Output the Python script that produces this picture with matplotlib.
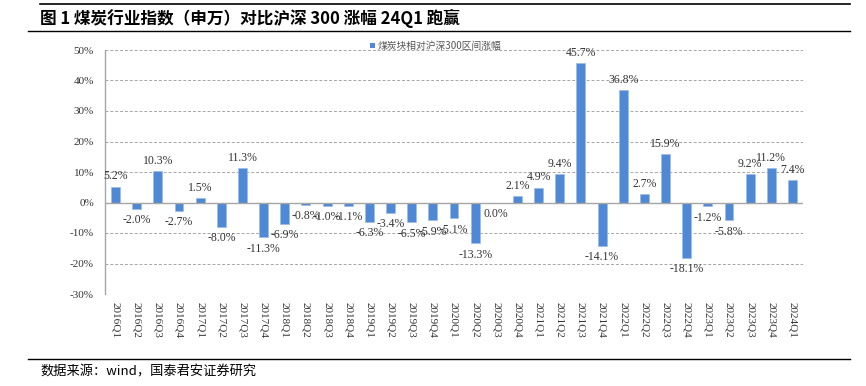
import matplotlib
matplotlib.use("Agg")
import matplotlib.pyplot as plt
from matplotlib.lines import Line2D
from matplotlib.patches import Rectangle

categories = ["2016Q1", "2016Q2", "2016Q3", "2016Q4", "2017Q1", "2017Q2", "2017Q3", "2017Q4",
              "2018Q1", "2018Q2", "2018Q3", "2018Q4", "2019Q1", "2019Q2", "2019Q3", "2019Q4",
              "2020Q1", "2020Q2", "2020Q3", "2020Q4", "2021Q1", "2021Q2", "2021Q3", "2021Q4",
              "2022Q1", "2022Q2", "2022Q3", "2022Q4", "2023Q1", "2023Q2", "2023Q3", "2023Q4",
              "2024Q1"]
values = [5.2, -2.0, 10.3, -2.7, 1.5, -8.0, 11.3, -11.3,
          -6.9, -0.8, -1.0, -1.1, -6.3, -3.4, -6.5, -5.9,
          -5.1, -13.3, 0.0, 2.1, 4.9, 9.4, 45.7, -14.1,
          36.8, 2.7, 15.9, -18.1, -1.2, -5.8, 9.2, 11.2,
          7.4]
yticks = [-30, -20, -10, 0, 10, 20, 30, 40, 50]
series_name = "煤炭块相对沪深300区间涨幅"
title = "图 1 煤炭行业指数（申万）对比沪深 300 涨幅 24Q1 跑赢"
source = "数据来源：wind，国泰君安证券研究"

W, H = 866, 386
fig = plt.figure(figsize=(W / 100, H / 100), dpi=100)

serif = ["Liberation Serif", "DejaVu Serif"]
cjk = ["Noto Sans CJK SC", "DejaVu Sans"]
bar_color = "#4F88D4"

def fx(px):
    return px / W

def fy(py):
    return 1 - py / H

# Axes
left, right, top, bottom = 105, 803, 50, 294
ax = fig.add_axes([fx(left), fy(bottom), fx(right - left), (bottom - top) / H])
x = list(range(len(categories)))
ax.bar(x, values, width=0.42, color=bar_color, edgecolor="#9DBCE6", linewidth=0.5, zorder=3)
ax.set_xlim(-0.5, len(categories) - 0.5)
ax.set_ylim(-30, 50)
ax.set_yticks(yticks)
ax.set_yticklabels([f"{t}%" for t in yticks], fontfamily=serif, fontsize=8, color="#333333")
ax.tick_params(axis="y", length=0, pad=8)
ax.set_xticks(x)
ax.set_xticklabels(categories, rotation=-90, fontfamily=serif, fontsize=8, color="#333333")
ax.tick_params(axis="x", length=0, pad=6)
for t in yticks:
    if t != 0:
        ax.axhline(t, color="#A6A6A6", linestyle=(0, (3, 2)), linewidth=0.7, zorder=1)
ax.axhline(0, color="#A6A6A6", linewidth=1.0, zorder=4)
for s in ["top", "right", "bottom"]:
    ax.spines[s].set_visible(False)
ax.spines["left"].set_color("#A6A6A6")
ax.spines["left"].set_linewidth(1.0)

for xi, v in zip(x, values):
    if v > 0:
        ax.annotate(f"{v:.1f}%", (xi, v), xytext=(0, 3), textcoords="offset points",
                    ha="center", va="bottom", fontfamily=serif, fontsize=8.5, color="#333333", zorder=5)
    else:
        ax.annotate(f"{v:.1f}%", (xi, v), xytext=(0, -4), textcoords="offset points",
                    ha="center", va="top", fontfamily=serif, fontsize=8.5, color="#333333", zorder=5)

# Legend
fig.patches.append(Rectangle((fx(370), fy(48)), fx(5), 5 / H, transform=fig.transFigure,
                             facecolor=bar_color, edgecolor="none"))
fig.text(fx(378), fy(45.5), series_name, fontfamily=cjk, fontsize=7, color="#555555",
         ha="left", va="center")

# Title and rules
fig.add_artist(Line2D([fx(40), fx(850)], [fy(4), fy(4)], color="black", linewidth=1.2,
                      transform=fig.transFigure))
fig.text(fx(40), fy(18.5), title, fontfamily=cjk, fontsize=12, fontweight="bold",
         color="black", ha="left", va="center")
fig.add_artist(Line2D([fx(28), fx(850)], [fy(31), fy(31)], color="black", linewidth=1.0,
                      transform=fig.transFigure))
fig.add_artist(Line2D([fx(28), fx(850)], [fy(359), fy(359)], color="black", linewidth=1.0,
                      transform=fig.transFigure))
fig.text(fx(40), fy(372), source, fontfamily=cjk, fontsize=9.5, color="black",
         ha="left", va="center")

fig.savefig("out.png", dpi=100)
